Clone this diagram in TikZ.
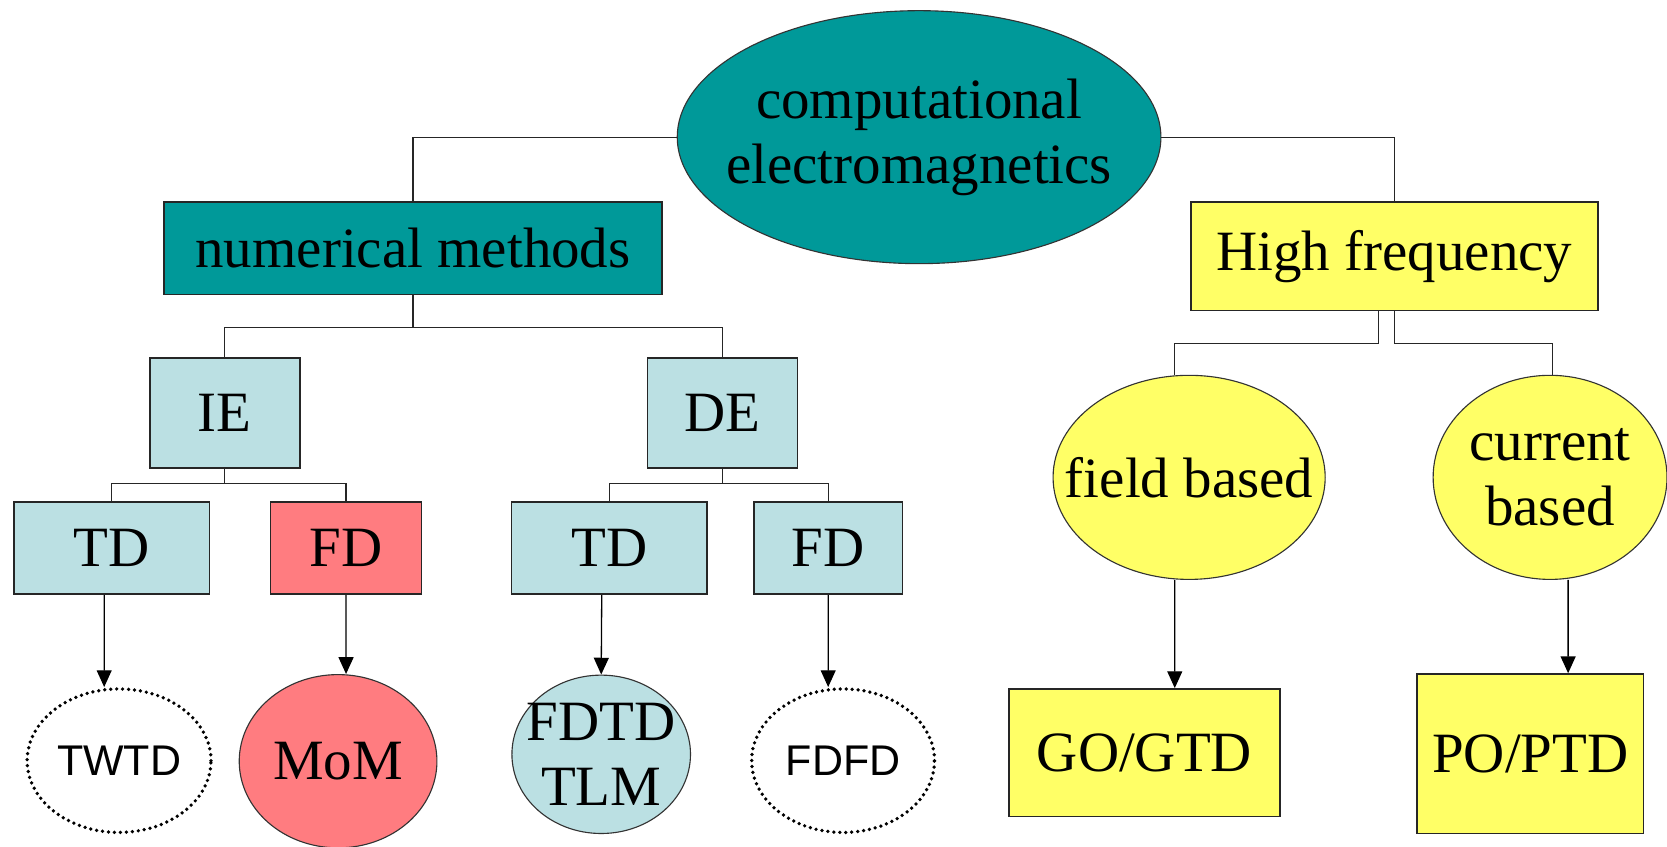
\documentclass[tikz,border=0pt]{standalone}
\usepackage{fontspec}
\setmainfont{Liberation Serif}
\newfontfamily\arialf{Liberation Sans}
\usetikzlibrary{shapes.geometric,arrows.meta}
\definecolor{tealc}{HTML}{009999}
\definecolor{yelc}{HTML}{FFFF66}
\definecolor{lbluec}{HTML}{BBE0E3}
\definecolor{pinkc}{HTML}{FF7C80}
\begin{document}
\begin{tikzpicture}[x=0.02cm,y=-0.02cm,
  box/.style={draw=black!85, line width=0.9pt, rectangle, inner sep=0pt, font=\fontsize{30.5}{35}\selectfont, align=center},
  oval/.style={draw=black!80, line width=0.6pt, ellipse, inner sep=0pt},
  dotoval/.style={draw=black, ellipse, inner sep=0pt, line width=2pt, dash pattern=on 0pt off 3.2pt, line cap=round},
  txt/.style={font=\fontsize{30.5}{35}\selectfont, align=center, inner sep=0pt},
  stxt/.style={font=\arialf\fontsize{23}{26}\selectfont, inner sep=0pt},
  conn/.style={line width=0.6pt, draw=black!85},
  arr/.style={line width=0.7pt, draw=black, -{Triangle[length=9pt,width=8pt]}}]
\useasboundingbox (0,0) rectangle (1568,796);

% top ellipse
\node[oval, fill=tealc, minimum width=9.1cm, minimum height=4.76cm,
  label={[txt]center:computational\\electromagnetics}] (ce) at (864.5,129) {};

% level 1
\node[box, fill=tealc, minimum width=9.38cm, minimum height=1.74cm] (nm) at (388.5,233.5) {numerical methods};
\node[box, fill=yelc, minimum width=7.66cm, minimum height=2.04cm] (hf) at (1311.5,241) {High frequency};

% level 2 left
\node[box, fill=lbluec, minimum width=2.82cm, minimum height=2.06cm] (ie) at (211.5,388.5) {IE};
\node[box, fill=lbluec, minimum width=2.82cm, minimum height=2.06cm] (de) at (679.5,388.5) {DE};

% level 3 left
\node[box, fill=lbluec, minimum width=3.68cm, minimum height=1.74cm] (td1) at (105,515.5) {TD};
\node[box, fill=pinkc, minimum width=2.84cm, minimum height=1.74cm] (fd1) at (325.5,515.5) {FD};
\node[box, fill=lbluec, minimum width=3.68cm, minimum height=1.74cm] (td2) at (573,515.5) {TD};
\node[box, fill=lbluec, minimum width=2.8cm, minimum height=1.74cm] (fd2) at (779,515.5) {FD};

% level 4 left
\node[dotoval, minimum width=3.46cm, minimum height=2.7cm,
  label={[stxt]center:TWTD}] (twtd) at (112,715.5) {};
\node[oval, fill=pinkc, minimum width=3.72cm, minimum height=3.26cm,
  label={[txt]center:MoM}] (mom) at (318,716) {};
\node[oval, fill=lbluec, minimum width=3.36cm, minimum height=2.98cm,
  label={[txt]center:FDTD\\TLM}] (fdtd) at (565.5,709.5) {};
\node[dotoval, minimum width=3.44cm, minimum height=2.7cm,
  label={[stxt]center:FDFD}] (fdfd) at (793,715.5) {};

% right side
\node[oval, fill=yelc, minimum width=5.12cm, minimum height=3.84cm,
  label={[txt]center:field based}] (fb) at (1118.5,449) {};
\node[oval, fill=yelc, minimum width=4.4cm, minimum height=3.84cm,
  label={[txt]center:current\\based}] (cb) at (1458,449) {};
\node[box, fill=yelc, minimum width=5.1cm, minimum height=2.4cm] (go) at (1076.5,708) {GO/GTD};
\node[box, fill=yelc, minimum width=4.26cm, minimum height=3.0cm] (po) at (1439.5,709) {PO/PTD};

% connectors top
\draw[conn] (ce.west) -| (nm.north);
\draw[conn] (ce.east) -| (hf.north);

\coordinate (j1) at (388.5,308);
\draw[conn] (nm.south) -- (j1);
\draw[conn] (ie.north) |- (j1) -| (de.north);

\coordinate (j2) at (211.5,455);
\draw[conn] (ie.south) -- (j2);
\draw[conn] (td1.north) |- (j2) -| (fd1.north);

\coordinate (j3) at (679.5,455);
\draw[conn] (de.south) -- (j3);
\draw[conn] (td2.north) |- (j3) -| (fd2.north);

\draw[conn] ([xshift=-0.29cm]hf.south) -- ++(0,30) -| ([xshift=-0.27cm]fb.north);
\draw[conn] (hf.south) -- ++(0,30) -| ([xshift=0.04cm]cb.north);

% arrows
\draw[arr] ([xshift=-0.14cm]td1.south) -- ([xshift=-0.28cm]twtd.north);
\draw[arr] (fd1.south) -- ([xshift=0.15cm]mom.north);
\draw[arr] ([xshift=-0.14cm]td2.south) -- (fdtd.north);
\draw[arr] (fd2.south) -- ([xshift=-0.28cm]fdfd.north);
\draw[arr] ([xshift=-0.27cm]fb.south) -- ([xshift=0.57cm]go.north);
\draw[arr] ([xshift=0.34cm]cb.south) -- ([xshift=0.71cm]po.north);
\end{tikzpicture}
\end{document}
